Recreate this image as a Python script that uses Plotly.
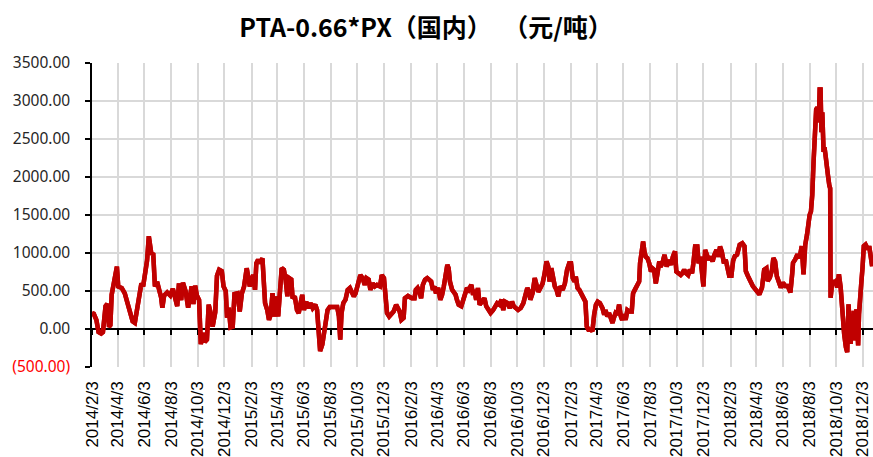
import plotly.graph_objects as go

# ---- data ----
dates = [
    "2014-02-03", "2014-02-07", "2014-02-13", "2014-02-18", "2014-02-24", "2014-02-28", "2014-03-06", "2014-03-10",
    "2014-03-14", "2014-03-17", "2014-03-20", "2014-03-24", "2014-03-29", "2014-04-01", "2014-04-04", "2014-04-12",
    "2014-04-19", "2014-04-25", "2014-05-01", "2014-05-07", "2014-05-12", "2014-05-16", "2014-05-22", "2014-05-27",
    "2014-05-31", "2014-06-05", "2014-06-09", "2014-06-13", "2014-06-16", "2014-06-19", "2014-06-23", "2014-06-27",
    "2014-07-02", "2014-07-07", "2014-07-11", "2014-07-14", "2014-07-18", "2014-07-25", "2014-08-01", "2014-08-07",
    "2014-08-12", "2014-08-17", "2014-08-21", "2014-08-26", "2014-08-30", "2014-09-05", "2014-09-11", "2014-09-15",
    "2014-09-19", "2014-09-23", "2014-09-27", "2014-10-01", "2014-10-06", "2014-10-10", "2014-10-15", "2014-10-19",
    "2014-10-24", "2014-10-28", "2014-11-02", "2014-11-06", "2014-11-12", "2014-11-16", "2014-11-21", "2014-11-27",
    "2014-12-01", "2014-12-06", "2014-12-09", "2014-12-13", "2014-12-17", "2014-12-22", "2014-12-26", "2015-01-02",
    "2015-01-07", "2015-01-12", "2015-01-17", "2015-01-23", "2015-01-27",
    "2015-01-30", "2015-02-03", "2015-02-07", "2015-02-11", "2015-02-14", "2015-02-18", "2015-02-22", "2015-02-28",
    "2015-03-03", "2015-03-06", "2015-03-11", "2015-03-15", "2015-03-19", "2015-03-23", "2015-03-27", "2015-03-31",
    "2015-04-05", "2015-04-09", "2015-04-13", "2015-04-18", "2015-04-22", "2015-04-26", "2015-04-30", "2015-05-05",
    "2015-05-08", "2015-05-13", "2015-05-18", "2015-05-22", "2015-05-26", "2015-05-30", "2015-06-03", "2015-06-08",
    "2015-06-13", "2015-06-18", "2015-06-23", "2015-06-29", "2015-07-03", "2015-07-07", "2015-07-10", "2015-07-15",
    "2015-07-20", "2015-07-23", "2015-07-27", "2015-08-01", "2015-08-09", "2015-08-18", "2015-08-22", "2015-08-25",
    "2015-08-28", "2015-09-01", "2015-09-06", "2015-09-11", "2015-09-16", "2015-09-20", "2015-09-25", "2015-09-29",
    "2015-10-05", "2015-10-10", "2015-10-15", "2015-10-20", "2015-10-24", "2015-10-29", "2015-11-02", "2015-11-07",
    "2015-11-12", "2015-11-17", "2015-11-24", "2015-11-28", "2015-12-03", "2015-12-06", "2015-12-10", "2015-12-15",
    "2015-12-20", "2015-12-25", "2015-12-31", "2016-01-04", "2016-01-08", "2016-01-12", "2016-01-17", "2016-01-20",
    "2016-01-27",
    "2016-02-05", "2016-02-11", "2016-02-14", "2016-02-18", "2016-02-22", "2016-02-26", "2016-03-01", "2016-03-06",
    "2016-03-11", "2016-03-16", "2016-03-20", "2016-03-24", "2016-03-28", "2016-03-31", "2016-04-05", "2016-04-10",
    "2016-04-14", "2016-04-18", "2016-04-22", "2016-04-26", "2016-04-29", "2016-05-02", "2016-05-07", "2016-05-11",
    "2016-05-15", "2016-05-18", "2016-05-22", "2016-05-28", "2016-06-01", "2016-06-05", "2016-06-10", "2016-06-14",
    "2016-06-20", "2016-06-24", "2016-06-27", "2016-07-01", "2016-07-05", "2016-07-09", "2016-07-15", "2016-07-20",
    "2016-07-24", "2016-07-30", "2016-08-03", "2016-08-09", "2016-08-13", "2016-08-18", "2016-08-23", "2016-08-28",
    "2016-09-01", "2016-09-05", "2016-09-11", "2016-09-16", "2016-09-21", "2016-09-25", "2016-09-30", "2016-10-05",
    "2016-10-11", "2016-10-17", "2016-10-21", "2016-10-26", "2016-10-30", "2016-11-02", "2016-11-07", "2016-11-12",
    "2016-11-16", "2016-11-20", "2016-11-25", "2016-11-30", "2016-12-04", "2016-12-09", "2016-12-13", "2016-12-16",
    "2016-12-20", "2016-12-24", "2016-12-28", "2017-01-01", "2017-01-05", "2017-01-09", "2017-01-15", "2017-01-20",
    "2017-01-25", "2017-01-30",
    "2017-02-03", "2017-02-07", "2017-02-11", "2017-02-14", "2017-02-18", "2017-02-22", "2017-02-26", "2017-03-03",
    "2017-03-08", "2017-03-11", "2017-03-15", "2017-03-21", "2017-03-24", "2017-03-28", "2017-04-01", "2017-04-05",
    "2017-04-10", "2017-04-16", "2017-04-20", "2017-04-23", "2017-04-27", "2017-05-01", "2017-05-05", "2017-05-09",
    "2017-05-12", "2017-05-16", "2017-05-20", "2017-05-24", "2017-05-28", "2017-05-31", "2017-06-04", "2017-06-08",
    "2017-06-12", "2017-06-17", "2017-06-22", "2017-06-25", "2017-06-29", "2017-07-05", "2017-07-09", "2017-07-11",
    "2017-07-15", "2017-07-18", "2017-07-21", "2017-07-24", "2017-07-28", "2017-08-01", "2017-08-05", "2017-08-08",
    "2017-08-12", "2017-08-16", "2017-08-20", "2017-08-24", "2017-08-27", "2017-08-31", "2017-09-05", "2017-09-10",
    "2017-09-15", "2017-09-20", "2017-09-24", "2017-09-29", "2017-10-02", "2017-10-07", "2017-10-12", "2017-10-16",
    "2017-10-20", "2017-10-24", "2017-10-29", "2017-11-02", "2017-11-07", "2017-11-10", "2017-11-14", "2017-11-19",
    "2017-11-22", "2017-11-26", "2017-11-30", "2017-12-03", "2017-12-07", "2017-12-10", "2017-12-15", "2017-12-19",
    "2017-12-24", "2017-12-28", "2018-01-02", "2018-01-06", "2018-01-10", "2018-01-14", "2018-01-19", "2018-01-23",
    "2018-01-27", "2018-01-31", "2018-02-05", "2018-02-09",
    "2018-02-13", "2018-02-18", "2018-02-24", "2018-03-02", "2018-03-07", "2018-03-10", "2018-03-15", "2018-03-20",
    "2018-03-26", "2018-04-01", "2018-04-06", "2018-04-10", "2018-04-16", "2018-04-21", "2018-04-26", "2018-04-29",
    "2018-05-04", "2018-05-09", "2018-05-12", "2018-05-16", "2018-05-20", "2018-05-24", "2018-05-29", "2018-06-03",
    "2018-06-08", "2018-06-14", "2018-06-20", "2018-06-24", "2018-06-26", "2018-07-01", "2018-07-06", "2018-07-11",
    "2018-07-16", "2018-07-20", "2018-07-24", "2018-07-28", "2018-07-31", "2018-08-03", "2018-08-06", "2018-08-09",
    "2018-08-12", "2018-08-15", "2018-08-18", "2018-08-21", "2018-08-24", "2018-08-26", "2018-08-28", "2018-08-30",
    "2018-09-01", "2018-09-04", "2018-09-06", "2018-09-08", "2018-09-11", "2018-09-14", "2018-09-17", "2018-09-19",
    "2018-09-20", "2018-09-24", "2018-09-28", "2018-10-02", "2018-10-05", "2018-10-09", "2018-10-13", "2018-10-17",
    "2018-10-21", "2018-10-25", "2018-10-28", "2018-10-31", "2018-11-02", "2018-11-05", "2018-11-07", "2018-11-10",
    "2018-11-12", "2018-11-15", "2018-11-18", "2018-11-22", "2018-11-24", "2018-11-26", "2018-11-29", "2018-12-02",
    "2018-12-05", "2018-12-09", "2018-12-13", "2018-12-18", "2018-12-21", "2018-12-24",
]
values = [
    210, 200, 120, -40, -60, -40, 300, 330,
    30, 50, 450, 600, 780, 820, 560, 540,
    470, 330, 200, 100, 80, 200, 430, 600,
    560, 730, 900, 1220, 1130, 980, 1000, 560,
    620, 500, 420, 280, 440, 480, 440, 530,
    420, 300, 600, 380, 610, 500, 280, 480,
    560, 330, 570, 440, 380, -200, -50, -170,
    -140, 320, 200, 30, 220, 700, 780, 760,
    560, 500, 150, 280, 20, 30, 460, 470,
    230, 470, 560, 800, 600,
    560, 650, 710, 515, 865, 910, 865, 930,
    670, 340, 250, 120, 190, 470, 165, 430,
    165, 560, 800, 780, 650, 430, 670, 650,
    405, 430, 250, 210, 385, 450, 250, 360,
    275, 340, 275, 320, 250, -10, -290, -205,
    -30, 120, 250, 290, 290, 290, 165, -140,
    210, 340, 385, 515, 540, 490, 430, 470,
    580, 710, 670, 580, 670, 650, 515, 600,
    560, 580, 560, 710, 670, 515, 210, 165,
    190, 230, 320, 275, 230, 120, 145, 405,
    435,
    405, 405, 515, 540, 490, 405, 580, 650,
    670, 650, 625, 515, 560, 470, 540, 385,
    450, 560, 670, 845, 800, 625, 515, 490,
    450, 385, 320, 300, 385, 490, 540, 515,
    580, 450, 515, 385, 540, 320, 360, 405,
    300, 250, 210, 250, 290, 340, 320, 385,
    250, 360, 340, 275, 360, 300, 275, 250,
    275, 340, 430, 540, 490, 385, 470, 670,
    580, 490, 540, 600, 710, 890, 820, 625,
    800, 670, 560, 515, 430, 560, 515, 600,
    780, 865,
    865, 670, 625, 690, 540, 515, 470, 405,
    360, 35, -10, -10, -30, 190, 320, 360,
    340, 275, 190, 250, 165, 210, 120, 80,
    145, 210, 190, 320, 165, 120, 190, 120,
    250, 230, 230, 470, 515, 580, 625, 865,
    1060, 1150, 1020, 950, 930, 865, 755, 800,
    780, 600, 735, 890, 820, 865, 975, 820,
    910, 845, 950, 1020, 755, 735, 710, 735,
    780, 735, 710, 780, 735, 865, 1085, 1085,
    865, 950, 625, 560, 1040, 975, 910, 950,
    890, 975, 1040, 950, 1085, 1020, 865, 910,
    820, 700, 700, 900,
    960, 980, 1110, 1130, 1090, 760, 695, 630,
    565, 520, 480, 455, 545, 780, 800, 630,
    675, 780, 935, 890, 695, 630, 545, 610,
    565, 565, 480, 720, 870, 915, 980, 935,
    1090, 720, 1110, 1240, 1455, 1500, 1545, 1760,
    2200, 2460, 2890, 2915, 2720, 3150, 3150, 2590,
    2850, 2330, 2390, 2305, 2065, 2020, 1890, 1850,
    410, 630, 610, 630, 545, 720, 545, 195,
    -65, -240, -305, 325, 150, -195, 195, -65,
    240, -150, 260, -215, 195, 500, 590, 805,
    1090, 1110, 1065, 1065, 890, 825,
]

x_tick_dates = [
    "2014-02-03", "2014-04-03", "2014-06-03", "2014-08-03", "2014-10-03", "2014-12-03",
    "2015-02-03", "2015-04-03", "2015-06-03", "2015-08-03", "2015-10-03", "2015-12-03",
    "2016-02-03", "2016-04-03", "2016-06-03", "2016-08-03", "2016-10-03", "2016-12-03",
    "2017-02-03", "2017-04-03", "2017-06-03", "2017-08-03", "2017-10-03", "2017-12-03",
    "2018-02-03", "2018-04-03", "2018-06-03", "2018-08-03", "2018-10-03", "2018-12-03",
]
x_tick_labels = [
    "2014/2/3", "2014/4/3", "2014/6/3", "2014/8/3", "2014/10/3", "2014/12/3",
    "2015/2/3", "2015/4/3", "2015/6/3", "2015/8/3", "2015/10/3", "2015/12/3",
    "2016/2/3", "2016/4/3", "2016/6/3", "2016/8/3", "2016/10/3", "2016/12/3",
    "2017/2/3", "2017/4/3", "2017/6/3", "2017/8/3", "2017/10/3", "2017/12/3",
    "2018/2/3", "2018/4/3", "2018/6/3", "2018/8/3", "2018/10/3", "2018/12/3",
]
y_tick_values = [-500, 0, 500, 1000, 1500, 2000, 2500, 3000, 3500]
y_tick_labels = ['<span style="color:#FF0000">(500.00)</span>', "0.00", "500.00", "1000.00",
                 "1500.00", "2000.00", "2500.00", "3000.00", "3500.00"]
title_text = "<b>PTA-0.66*PX（国内）  （元/吨）</b>"
x_range = ["2014-02-03", "2018-12-26"]
y_range = [-500, 3500]

line_style = dict(color="#C00000", width=4.5)

fig = go.Figure()
fig.add_trace(go.Scatter(x=dates, y=values, mode="lines", line=line_style, showlegend=False))
# same series on the overlaid axis that carries the zero line and its tick marks
fig.add_trace(go.Scatter(x=dates, y=values, mode="lines", line=line_style, showlegend=False,
                         xaxis="x2", yaxis="y", hoverinfo="skip"))

grid = "#D9D9D9"
fig.update_layout(
    width=873, height=457,
    margin=dict(l=92, r=0, t=63, b=90),
    paper_bgcolor="white", plot_bgcolor="white",
    title=dict(text=title_text, x=0.488, xref="container", xanchor="center",
               y=1 - 28 / 457, yref="container", yanchor="middle",
               font=dict(family="Noto Sans CJK SC", size=25, color="#000000")),
    xaxis=dict(type="date", range=x_range, tickvals=x_tick_dates, ticktext=x_tick_labels,
               tickangle=-90, showgrid=True, gridcolor=grid, gridwidth=1.5,
               showline=False, ticks="", ticklabelstandoff=10, zeroline=False, automargin=False,
               tickfont=dict(family="Liberation Sans", size=17, color="#000000")),
    xaxis2=dict(type="date", overlaying="x", anchor="free", position=0.125, range=x_range,
                tickvals=x_tick_dates, showticklabels=False, ticks="outside", ticklen=5,
                tickwidth=1.5, tickcolor="black", showline=True, linecolor="black",
                linewidth=1.5, showgrid=False, zeroline=False, layer="below traces",
                automargin=False),
    yaxis=dict(range=y_range, tickvals=y_tick_values, ticktext=y_tick_labels,
               showgrid=True, gridcolor=grid, gridwidth=1.5, showline=True,
               linecolor="black", linewidth=1.5, ticks="outside", ticklen=5,
               tickwidth=1.5, tickcolor="black", zeroline=False, ticklabelstandoff=12,
               layer="below traces", automargin=False,
               tickfont=dict(family="Noto Sans", size=15.5, color="#262626")),
)

fig.write_html("out.html", config={"displayModeBar": False},
               post_script="document.body.style.margin='0';document.body.style.padding='0';")
